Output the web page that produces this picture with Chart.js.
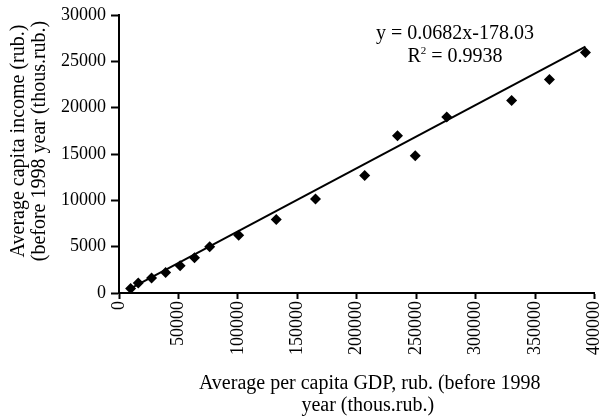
<!DOCTYPE html>
<html>
<head>
<meta charset="utf-8">
<script src="https://cdn.jsdelivr.net/npm/chart.js@4"></script>
<style>
  html, body { margin: 0; padding: 0; background: #fff; }
  #wrap { width: 600px; height: 417px; position: relative; }
</style>
</head>
<body>
<div id="wrap"><canvas id="c"></canvas></div>
<script>
// Regional observations: per capita GDP vs per capita income (thous. rub.)
const gdp = [9800, 16200, 27400, 39200, 51400, 63500, 76300, 100700, 132300,
             165300, 206700, 234300, 249200, 275700, 330300, 362100, 392400];
const income = [480, 1090, 1630, 2210, 2930, 3800, 5000, 6230, 7930,
                10140, 12680, 16960, 14820, 18990, 20760, 23040, 25940];

const xTicks = [0, 50000, 100000, 150000, 200000, 250000, 300000, 350000, 400000];
const yTicks = [0, 5000, 10000, 15000, 20000, 25000, 30000];

// Linear trend fitted to the observations
const slope = 0.0682;
const intercept = -178.03;
const rSquared = 0.9938;

const xTitle = ['Average per capita GDP, rub. (before 1998', 'year (thous.rub.)'];
const yTitle = ['Average capita income (rub.)', '(before 1998 year (thous.rub.)'];

const FONT = '"Liberation Serif", "Times New Roman", serif';
const TITLE_SIZE = 20;

const points = gdp.map((x, i) => ({ x: x, y: income[i] }));
const xMin = Math.min(...gdp), xMax = Math.max(...gdp);
const trend = [xMin, xMax].map(x => ({ x: x, y: slope * x + intercept }));

// Axis titles and the regression label
const textPlugin = {
  id: 'texts',
  afterDraw(chart) {
    const ctx = chart.ctx;
    const a = chart.chartArea;
    const big = TITLE_SIZE + 'px ' + FONT;
    const small = '11px ' + FONT;
    ctx.save();
    ctx.fillStyle = '#000';
    ctx.textAlign = 'center';
    ctx.textBaseline = 'middle';
    ctx.font = big;

    // x title
    const cx = (a.left + a.right) / 2 + 13;
    ctx.fillText(xTitle[0], cx, 384);
    ctx.fillText(xTitle[1], cx - 2, 406);

    // y title (rotated)
    ctx.save();
    ctx.translate(19, 141);
    ctx.rotate(-Math.PI / 2);
    ctx.fillText(yTitle[0], 0, 0);
    ctx.fillText(yTitle[1], 0, 21);
    ctx.restore();

    // regression equation
    const sign = intercept < 0 ? '-' : '+';
    const eq = 'y = ' + slope + 'x' + sign + Math.abs(intercept).toFixed(2);
    ctx.fillText(eq, 455, 34);

    const rest = ' = ' + rSquared;
    const wR = ctx.measureText('R').width;
    const wRest = ctx.measureText(rest).width;
    ctx.font = small;
    const w2 = ctx.measureText('2').width;
    const total = wR + w2 + wRest;
    const x0 = 455 - total / 2;
    ctx.textAlign = 'left';
    ctx.font = big;
    ctx.fillText('R', x0, 57);
    ctx.font = small;
    ctx.fillText('2', x0 + wR, 51);
    ctx.font = big;
    ctx.fillText(rest, x0 + wR + w2, 57);
    ctx.restore();
  }
};

new Chart(document.getElementById('c'), {
  type: 'scatter',
  data: {
    datasets: [
      {
        type: 'scatter',
        data: points,
        pointStyle: 'rectRot',
        pointRadius: 5.5,
        pointHoverRadius: 5.5,
        backgroundColor: '#000',
        borderColor: '#000',
        borderWidth: 0,
        order: 1
      },
      {
        type: 'line',
        data: trend,
        borderColor: '#000',
        borderWidth: 2,
        pointRadius: 0,
        fill: false,
        order: 2
      }
    ]
  },
  options: {
    responsive: true,
    maintainAspectRatio: false,
    animation: false,
    devicePixelRatio: 1,
    layout: { padding: { top: 15, right: 4, left: 0, bottom: 0 } },
    plugins: { legend: { display: false }, tooltip: { enabled: false } },
    scales: {
      x: {
        type: 'linear',
        min: 0,
        max: 400000,
        afterBuildTicks: s => { s.ticks = xTicks.map(v => ({ value: v })); },
        afterFit: s => { s.height = 124; s.paddingRight = 4; s.paddingLeft = 0; },
        ticks: {
          minRotation: 90,
          maxRotation: 90,
          autoSkip: false,
          padding: 2,
          color: '#000',
          font: { family: FONT, size: 18 },
          callback: v => String(v)
        },
        grid: {
          drawOnChartArea: false,
          drawTicks: true,
          tickLength: 6,
          tickWidth: 2,
          color: '#000'
        },
        border: { display: true, color: '#000', width: 2 }
      },
      y: {
        type: 'linear',
        min: 0,
        max: 30000,
        afterBuildTicks: s => { s.ticks = yTicks.map(v => ({ value: v })); },
        afterFit: s => { s.width = 119; s.paddingTop = 0; s.paddingBottom = 0; },
        ticks: {
          autoSkip: false,
          padding: 5,
          color: '#000',
          font: { family: FONT, size: 18 },
          callback: v => String(v)
        },
        grid: {
          drawOnChartArea: false,
          drawTicks: true,
          tickLength: 8,
          tickWidth: 2,
          color: '#000'
        },
        border: { display: true, color: '#000', width: 2 }
      }
    }
  },
  plugins: [textPlugin]
});
</script>
</body>
</html>
